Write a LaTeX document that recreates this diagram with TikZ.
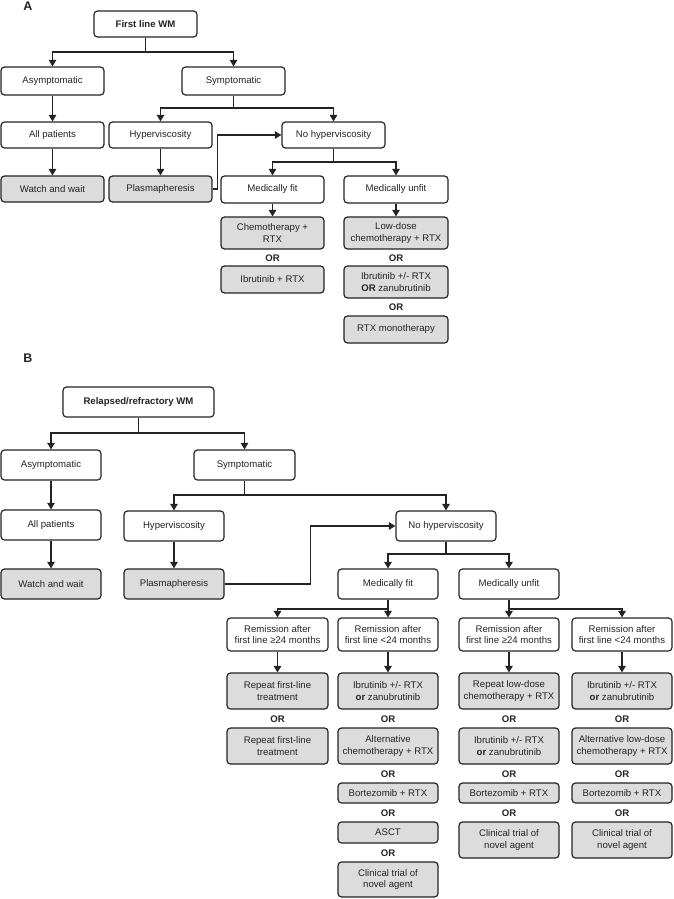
\documentclass[tikz,border=0pt]{standalone}
\usepackage{fontspec}
\setmainfont{Liberation Sans}
\usetikzlibrary{arrows.meta}
\definecolor{boxgray}{RGB}{220,220,220}
\definecolor{ink}{RGB}{35,35,35}
\newcommand\fs{\fontsize{9.6}{11.3}\selectfont}
\newcommand\bx[7][box]{\node[#1, minimum width={#5-#3}, minimum height={#6-#4}] (#2) at ({(#3+#5)/2},{-(#4+#6)/2}) {#7};}
\newcommand\orl[3]{\node[orlab] (#1) at (#2,-#3) {OR};}
\begin{document}
\begin{tikzpicture}[x=1pt,y=1pt,
 box/.style={draw=ink, line width=1.2pt, rounded corners=3.5pt, align=center, font=\fs, inner sep=0pt, text=ink},
 gbox/.style={box, fill=boxgray},
 orlab/.style={font=\fs\bfseries, inner sep=0pt, text=ink},
 arr/.style={draw=ink, line width=1.2pt, -{Triangle[length=6.5pt,width=7.5pt]}},
 panel/.style={font=\fontsize{12.5}{14}\selectfont\bfseries, inner sep=0pt, text=ink}]
\useasboundingbox (0,0) rectangle (674,-899);
% ---------------- Panel A ----------------
\node[panel] (labA) at (28,-6) {A};
\bx{wmA}{94}{11}{197}{37}{\textbf{First line WM}}
\bx{asymA}{1}{67}{104}{95}{Asymptomatic}
\bx{symA}{182}{67}{285}{95}{Symptomatic}
\bx{allA}{1}{122}{104}{148}{All patients}
\bx{hypA}{109}{122}{212}{148}{Hyperviscosity}
\bx{nohA}{282}{122}{385}{148}{No hyperviscosity}
\bx[gbox]{wwA}{1}{176}{104}{202}{Watch and wait}
\bx[gbox]{plasA}{109}{176}{212}{202}{Plasmapheresis}
\bx{fitA}{221}{176}{324}{203}{Medically fit}
\bx{unfitA}{344}{176}{448}{203}{Medically unfit}
\bx[gbox]{fit1A}{221}{217}{324}{249}{Chemotherapy +\\RTX}
\orl{or1A}{272.5}{258}
\bx[gbox]{fit2A}{221}{266}{324}{293}{Ibrutinib + RTX}
\bx[gbox]{un1A}{344}{217}{448}{249}{Low-dose\\chemotherapy + RTX}
\orl{or2A}{396}{258}
\bx[gbox]{un2A}{344}{266}{448}{298}{Ibrutinib +/- RTX\\\textbf{OR} zanubrutinib}
\orl{or3A}{396}{307}
\bx[gbox]{un3A}{344}{316}{448}{343}{RTX monotherapy}
\coordinate (busA1) at (0,-52);
\coordinate (busA2) at (0,-108);
\coordinate (busA3) at (0,-162);
\draw[arr] (wmA.south) -- (wmA.south |- busA1) -| (asymA.north);
\draw[arr] (wmA.south |- busA1) -| (symA.north);
\draw[arr] (asymA.south) -- (allA.north);
\draw[arr] (allA.south) -- (wwA.north);
\draw[arr] (symA.south) -- (symA.south |- busA2) -| (hypA.north);
\draw[arr] (symA.south |- busA2) -| (nohA.north);
\draw[arr] (hypA.south) -- (plasA.north);
\draw[arr] (plasA.east) -- ++(5,0) |- (nohA.west);
\draw[arr] (nohA.south) -- (nohA.south |- busA3) -| (fitA.north);
\draw[arr] (nohA.south |- busA3) -| (unfitA.north);
\draw[arr] (fitA.south) -- (fit1A.north);
\draw[arr] (unfitA.south) -- (un1A.north);
% ---------------- Panel B ----------------
\node[panel] (labB) at (28,-358) {B};
\bx{wmB}{63}{387}{214}{417}{\textbf{Relapsed/refractory WM}}
\bx{asymB}{1}{450}{101}{480}{Asymptomatic}
\bx{symB}{194}{450}{295}{480}{Symptomatic}
\bx{allB}{1}{510}{101}{540}{All patients}
\bx{hypB}{124}{511}{224}{541}{Hyperviscosity}
\bx{nohB}{396}{511}{496}{541}{No hyperviscosity}
\bx[gbox]{wwB}{1}{569}{101}{599}{Watch and wait}
\bx[gbox]{plasB}{124}{569}{224}{599}{Plasmapheresis}
\bx{fitB}{338}{569}{438}{599}{Medically fit}
\bx{unfitB}{459}{569}{559}{599}{Medically unfit}
\bx{r1}{227}{618}{328}{651}{Remission after\\first line ≥24 months}
\bx{r2}{338}{618}{438}{651}{Remission after\\first line <24 months}
\bx{r3}{459}{618}{559}{651}{Remission after\\first line ≥24 months}
\bx{r4}{572}{618}{672}{651}{Remission after\\first line <24 months}
% column 1
\bx[gbox]{c1a}{227}{673}{328}{709}{Repeat first-line\\treatment}
\orl{o11}{277.5}{719}
\bx[gbox]{c1b}{227}{728}{328}{764}{Repeat first-line\\treatment}
% column 2
\bx[gbox]{c2a}{338}{673}{438}{709}{Ibrutinib +/- RTX\\\textbf{or} zanubrutinib}
\orl{o21}{388}{719}
\bx[gbox]{c2b}{338}{728}{438}{764}{Alternative\\chemotherapy + RTX}
\orl{o22}{388}{774}
\bx[gbox]{c2c}{338}{783}{438}{803}{Bortezomib + RTX}
\orl{o23}{388}{813}
\bx[gbox]{c2d}{338}{822}{438}{843}{ASCT}
\orl{o24}{388}{853}
\bx[gbox]{c2e}{338}{862}{438}{897}{Clinical trial of\\novel agent}
% column 3
\bx[gbox]{c3a}{459}{673}{559}{709}{Repeat low-dose\\chemotherapy + RTX}
\orl{o31}{509}{719}
\bx[gbox]{c3b}{459}{728}{559}{764}{Ibrutinib +/- RTX\\\textbf{or} zanubrutinib}
\orl{o32}{509}{774}
\bx[gbox]{c3c}{459}{783}{559}{803}{Bortezomib + RTX}
\orl{o33}{509}{813}
\bx[gbox]{c3d}{459}{822}{559}{858}{Clinical trial of\\novel agent}
% column 4
\bx[gbox]{c4a}{572}{673}{672}{709}{Ibrutinib +/- RTX\\\textbf{or} zanubrutinib}
\orl{o41}{622}{719}
\bx[gbox]{c4b}{572}{728}{672}{764}{Alternative low-dose\\chemotherapy + RTX}
\orl{o42}{622}{774}
\bx[gbox]{c4c}{572}{783}{672}{803}{Bortezomib + RTX}
\orl{o43}{622}{813}
\bx[gbox]{c4d}{572}{822}{672}{858}{Clinical trial of\\novel agent}
\coordinate (busB1) at (0,-433);
\coordinate (busB2) at (0,-495);
\coordinate (busB3) at (0,-554);
\coordinate (busB4) at (0,-609);
\draw[arr] (wmB.south) -- (wmB.south |- busB1) -| (asymB.north);
\draw[arr] (wmB.south |- busB1) -| (symB.north);
\draw[arr] (asymB.south) -- (allB.north);
\draw[arr] (allB.south) -- (wwB.north);
\draw[arr] (symB.south) -- (symB.south |- busB2) -| (hypB.north);
\draw[arr] (symB.south |- busB2) -| (nohB.north);
\draw[arr] (hypB.south) -- (plasB.north);
\draw[arr] (plasB.east) -- ++(86,0) |- (nohB.west);
\draw[arr] (nohB.south) -- (nohB.south |- busB3) -| (fitB.north);
\draw[arr] (nohB.south |- busB3) -| (unfitB.north);
\draw[arr] (fitB.south) -- (fitB.south |- busB4) -| (r1.north);
\draw[arr] (fitB.south |- busB4) -- (r2.north);
\draw[arr] (unfitB.south) -- (unfitB.south |- busB4) -- (r3.north);
\draw[arr] (unfitB.south |- busB4) -| (r4.north);
\draw[arr] (r1.south) -- (c1a.north);
\draw[arr] (r2.south) -- (c2a.north);
\draw[arr] (r3.south) -- (c3a.north);
\draw[arr] (r4.south) -- (c4a.north);
\end{tikzpicture}
\end{document}
